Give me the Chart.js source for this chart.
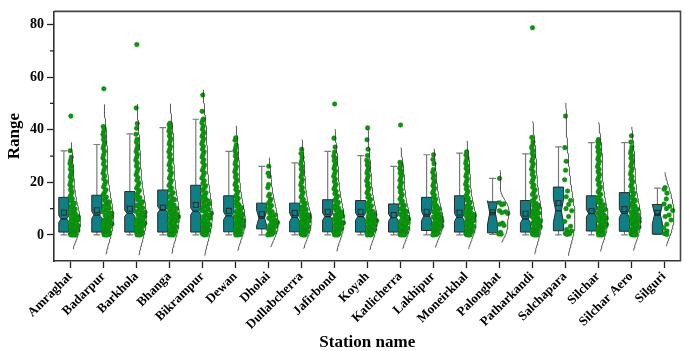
<!DOCTYPE html>
<html>
<head>
<meta charset="utf-8">
<script src="https://cdn.jsdelivr.net/npm/chart.js@4.4.0/dist/chart.umd.min.js"></script>
<style>
  html, body { margin: 0; padding: 0; background: #fff; }
  canvas { display: block; }
</style>
</head>
<body>
<canvas id="chart" width="685" height="351"></canvas>
<script>
// Stations on the x axis
const stations = ['Amraghat', 'Badarpur', 'Barkhola', 'Bhanga', 'Bikrampur', 'Dewan', 'Dholai',
    'Dullabcherra', 'Jafirbond', 'Koyah', 'Katlicherra', 'Lakhipur', 'Moneirkhal', 'Palonghat',
    'Patharkandi', 'Salchapara', 'Silchar', 'Silchar Aero', 'Silguri'];

// Box statistics
const whiskerLow = [0, 0, 0, 0, 0, 0, 0, 0, 0, 0, 0, 0, 0, 0.2, 0, 0, 0, 0, 0.2];
const q1 = [1.1, 1.1, 1.1, 1.1, 1.1, 1.2, 2.3, 1.2, 1.2, 1.1, 1.1, 1.7, 1.1, 0.8, 1.1, 1.6, 1.5, 1.4, 0.3];
const median = [6.1, 7.6, 8.2, 9.6, 9.0, 7.3, 6.4, 6.7, 7.0, 7.0, 6.6, 7.2, 6.7, 8.4, 6.1, 9.2, 8.2, 8.2, 7.9];
const mean = [8.5, 9.4, 10.0, 10.4, 11.4, 9.2, 7.9, 8.4, 8.8, 8.8, 7.6, 8.8, 8.5, 8.6, 8.1, 12.1, 9.0, 9.8, 8.4];
const q3 = [14.3, 15.1, 16.5, 17.1, 18.9, 14.9, 12.1, 12.1, 13.4, 13.1, 11.8, 14.3, 14.9, 12.6, 13.1, 18.2, 14.9, 16.1, 11.6];
const whiskerHigh = [32.0, 34.4, 38.4, 40.8, 44.0, 31.8, 26.1, 27.4, 31.8, 30.2, 26.1, 30.5, 31.1, 21.5, 30.8, 33.5, 35.1, 35.1, 17.8];
const notch = [1.3, 1.3, 1.2, 1.2, 1.3, 1.4, 3.0, 1.6, 1.4, 1.4, 1.4, 1.8, 1.6, 4.6, 1.6, 4.5, 1.4, 1.6, 3.7];

// Range values per station (scatter points)
const ptsAmraghat = [45.2, 32.0, 29.6, 28.4, 27.2, 26.1, 25.0, 24.1, 23.0, 22.1, 21.0, 20.2, 19.1, 18.3, 17.2, 16.4, 15.5, 14.6, 13.8, 12.9, 12.1, 11.4, 10.6, 9.9, 9.3, 8.7, 8.1, 7.6, 7.0, 6.5, 6.0, 5.6, 5.1, 4.7, 4.3, 3.9, 3.5, 3.2, 2.8, 2.5, 2.2, 1.9, 1.6, 1.4, 1.1, 0.9, 0.7, 0.5, 0.4, 0.3, 0.2, 0.1, 0.0, 0.0, 0.0, 4.4, 5.3, 6.3, 7.3, 8.4, 9.6, 10.8, 11.8, 3.0, 6.8];
const ptsBadarpur = [55.6, 41.2, 40.4, 39.3, 38.2, 37.4, 36.3, 35.2, 34.1, 33.0, 31.8, 30.5, 29.3, 28.1, 27.0, 25.8, 24.7, 23.5, 22.4, 21.3, 20.2, 19.2, 18.2, 17.2, 16.2, 15.3, 14.4, 13.5, 12.6, 11.8, 11.0, 10.2, 9.5, 8.8, 8.1, 7.5, 6.9, 6.3, 5.7, 5.2, 4.7, 4.2, 3.8, 3.4, 3.0, 2.6, 2.3, 2.0, 1.7, 1.4, 1.1, 0.9, 0.7, 0.5, 0.3, 0.2, 0.1, 0.0, 0.0, 4.9, 6.0, 7.1, 8.3, 9.1, 10.6, 11.5, 12.9, 3.6, 7.8];
const ptsBarkhola = [72.4, 48.3, 42.4, 40.6, 38.3, 36.4, 35.3, 33.9, 32.8, 31.7, 30.6, 29.5, 28.4, 27.3, 26.2, 25.1, 24.0, 22.9, 21.8, 20.8, 19.8, 18.8, 17.8, 16.9, 16.0, 15.1, 14.2, 13.4, 12.6, 11.8, 11.0, 10.3, 9.6, 8.9, 8.3, 7.7, 7.1, 6.5, 5.9, 5.4, 4.9, 4.4, 4.0, 3.6, 3.2, 2.8, 2.4, 2.1, 1.8, 1.5, 1.2, 1.0, 0.8, 0.6, 0.4, 0.2, 0.1, 0.0, 0.0, 5.1, 6.2, 7.4, 8.6, 9.9, 11.4, 12.2, 13.8, 4.2, 8.0];
const ptsBhanga = [42.5, 41.9, 41.2, 40.4, 39.5, 38.6, 37.6, 36.6, 35.6, 34.6, 33.6, 32.6, 31.6, 30.6, 29.6, 28.6, 27.6, 26.6, 25.6, 24.6, 23.6, 22.6, 21.6, 20.6, 19.7, 18.8, 17.9, 17.0, 16.1, 15.3, 14.5, 13.7, 12.9, 12.1, 11.4, 10.7, 10.0, 9.3, 8.7, 8.1, 7.5, 6.9, 6.3, 5.8, 5.3, 4.8, 4.3, 3.9, 3.5, 3.1, 2.7, 2.3, 2.0, 1.7, 1.4, 1.1, 0.8, 0.6, 0.4, 0.2, 0.1, 0.0, 0.0, 5.5, 6.7, 7.9, 9.0, 10.1, 11.2, 12.3, 13.4, 4.5, 8.4];
const ptsBikrampur = [53.2, 47.0, 44.1, 43.5, 42.6, 41.3, 40.2, 39.0, 38.2, 37.5, 36.6, 35.6, 34.6, 33.6, 32.6, 31.6, 30.6, 29.6, 28.6, 27.6, 26.6, 25.6, 24.6, 23.6, 22.6, 21.6, 20.6, 19.6, 18.7, 17.8, 16.9, 16.0, 15.1, 14.2, 13.4, 12.6, 11.8, 11.0, 10.3, 9.6, 8.9, 8.2, 7.6, 7.0, 6.4, 5.8, 5.3, 4.8, 4.3, 3.8, 3.4, 3.0, 2.6, 2.2, 1.9, 1.6, 1.3, 1.0, 0.8, 0.6, 0.4, 0.2, 0.1, 0.0, 5.6, 6.8, 8.0, 9.2, 10.4, 11.6, 12.9, 14.6, 4.0, 7.4];
const ptsDewan = [36.9, 36.0, 34.2, 33.1, 32.0, 31.0, 30.0, 29.0, 28.0, 27.0, 26.0, 25.0, 24.0, 23.0, 22.0, 21.0, 20.0, 19.1, 18.2, 17.3, 16.4, 15.5, 14.7, 13.9, 13.1, 12.3, 11.5, 10.8, 10.1, 9.4, 8.8, 8.2, 7.6, 7.0, 6.5, 6.0, 5.5, 5.0, 4.6, 4.2, 3.8, 3.4, 3.0, 2.7, 2.4, 2.1, 1.8, 1.5, 1.2, 1.0, 0.8, 0.6, 0.4, 0.2, 0.1, 0.0, 0.0, 4.8, 5.8, 6.7, 7.9, 9.0, 10.4, 11.9, 3.2, 7.3];
const ptsDholai = [26.1, 23.5, 22.3, 19.2, 18.0, 15.5, 14.8, 13.6, 12.8, 12.0, 11.2, 10.4, 9.5, 8.9, 8.2, 7.6, 7.0, 6.4, 5.8, 5.2, 4.7, 4.2, 3.7, 3.2, 2.7, 2.3, 1.9, 1.5, 1.1, 0.8, 0.5, 0.3, 0.1, 0.0];
const ptsDullabcherra = [32.6, 31.0, 29.5, 28.1, 27.0, 26.0, 25.0, 24.0, 23.0, 22.0, 21.0, 20.0, 19.0, 18.0, 17.1, 16.2, 15.3, 14.4, 13.6, 12.8, 12.0, 11.2, 10.5, 9.8, 9.1, 8.5, 7.9, 7.3, 6.7, 6.2, 5.7, 5.2, 4.7, 4.3, 3.9, 3.5, 3.1, 2.7, 2.4, 2.1, 1.8, 1.5, 1.2, 1.0, 0.8, 0.6, 0.4, 0.2, 0.1, 0.0, 0.0, 4.5, 5.4, 6.4, 7.6, 8.8, 10.1, 11.6, 3.3, 6.9];
const ptsJafirbond = [49.8, 36.8, 33.4, 31.5, 30.0, 29.2, 28.3, 27.3, 26.3, 25.3, 24.3, 23.3, 22.3, 21.3, 20.3, 19.3, 18.4, 17.5, 16.6, 15.7, 14.8, 14.0, 13.2, 12.4, 11.6, 10.9, 10.2, 9.5, 8.8, 8.2, 7.6, 7.0, 6.4, 5.9, 5.4, 4.9, 4.4, 4.0, 3.6, 3.2, 2.8, 2.4, 2.1, 1.8, 1.5, 1.2, 1.0, 0.8, 0.6, 0.4, 0.2, 0.1, 0.0, 0.0, 4.6, 5.6, 6.7, 7.9, 9.2, 10.5, 12.0, 3.4, 7.2];
const ptsKoyah = [40.7, 36.2, 32.6, 30.2, 28.4, 27.5, 26.6, 25.6, 24.6, 23.6, 22.6, 21.6, 20.6, 19.6, 18.7, 17.8, 16.9, 16.0, 15.1, 14.3, 13.5, 12.7, 11.9, 11.1, 10.4, 9.7, 9.0, 8.4, 7.8, 7.2, 6.6, 6.1, 5.6, 5.1, 4.6, 4.2, 3.8, 3.4, 3.0, 2.6, 2.3, 2.0, 1.7, 1.4, 1.1, 0.9, 0.7, 0.5, 0.3, 0.2, 0.1, 0.0, 0.0, 4.4, 5.4, 6.4, 7.5, 8.7, 10.0, 11.5, 3.2, 7.0];
const ptsKatlicherra = [41.8, 27.6, 27.0, 26.1, 25.3, 24.4, 23.5, 22.6, 21.7, 20.8, 19.9, 19.0, 18.1, 17.2, 16.3, 15.4, 14.5, 13.7, 12.9, 12.1, 11.3, 10.6, 9.9, 9.2, 8.5, 7.9, 7.3, 6.7, 6.1, 5.6, 5.1, 4.6, 4.2, 3.8, 3.4, 3.0, 2.6, 2.3, 2.0, 1.7, 1.4, 1.1, 0.9, 0.7, 0.5, 0.3, 0.2, 0.1, 0.0, 0.0, 4.4, 5.3, 6.3, 7.5, 8.8, 10.2, 3.1, 6.7];
const ptsLakhipur = [30.5, 28.7, 27.1, 24.9, 23.8, 22.6, 21.5, 20.4, 19.6, 18.7, 17.8, 16.9, 16.0, 15.2, 14.4, 13.6, 12.8, 12.0, 11.3, 10.6, 9.9, 9.2, 8.6, 8.0, 7.4, 6.8, 6.3, 5.8, 5.3, 4.8, 4.4, 4.0, 3.6, 3.2, 2.8, 2.5, 2.2, 1.9, 1.6, 1.3, 1.0, 0.8, 0.6, 0.4, 0.2, 0.1, 0.0, 4.6, 5.6, 6.6, 7.7, 9.0, 10.4, 11.9, 3.4, 7.1];
const ptsMoneirkhal = [31.6, 30.4, 29.3, 28.3, 27.3, 26.3, 25.3, 24.3, 23.3, 22.3, 21.3, 20.3, 19.3, 18.4, 17.5, 16.6, 15.7, 14.8, 14.0, 13.2, 12.4, 11.6, 10.9, 10.2, 9.5, 8.8, 8.2, 7.6, 7.0, 6.4, 5.9, 5.4, 4.9, 4.4, 4.0, 3.6, 3.2, 2.8, 2.4, 2.1, 1.8, 1.5, 1.2, 1.0, 0.8, 0.6, 0.4, 0.2, 0.1, 0.0, 0.0, 4.5, 5.5, 6.6, 7.8, 9.1, 10.6, 12.2, 3.3, 7.2];
const ptsPalonghat = [21.5, 12.2, 11.8, 11.5, 9.2, 8.8, 8.5, 8.2, 4.5, 4.1, 3.6, 1.0, 0.4, 0.3];
const ptsPatharkandi = [78.8, 37.1, 35.4, 34.0, 33.2, 32.1, 31.0, 30.0, 29.0, 28.0, 27.0, 26.0, 25.0, 24.0, 23.0, 22.0, 21.0, 20.0, 19.0, 18.1, 17.2, 16.3, 15.4, 14.5, 13.6, 12.8, 12.0, 11.2, 10.4, 9.7, 9.0, 8.3, 7.7, 7.1, 6.5, 5.9, 5.4, 4.9, 4.4, 4.0, 3.6, 3.2, 2.8, 2.4, 2.1, 1.8, 1.5, 1.2, 1.0, 0.8, 0.6, 0.4, 0.2, 0.1, 0.0, 0.0, 4.3, 5.2, 6.2, 7.4, 8.6, 9.9, 11.4, 3.1, 6.8];
const ptsSalchapara = [45.2, 33.2, 28.0, 24.6, 21.0, 16.7, 14.5, 13.1, 11.6, 10.0, 9.2, 7.0, 5.1, 3.3, 2.1, 1.5, 1.0, 0.6, 0.4, 0.2];
const ptsSilchar = [36.3, 35.6, 35.0, 34.2, 33.4, 32.5, 31.6, 30.7, 29.8, 28.9, 28.0, 27.0, 26.0, 25.0, 24.0, 23.0, 22.0, 21.0, 20.0, 19.1, 18.2, 17.3, 16.4, 15.5, 14.7, 13.9, 13.1, 12.3, 11.5, 10.8, 10.1, 9.4, 8.8, 8.2, 7.6, 7.0, 6.4, 5.9, 5.4, 4.9, 4.4, 4.0, 3.6, 3.2, 2.8, 2.4, 2.1, 1.8, 1.5, 1.2, 1.0, 0.8, 0.6, 0.4, 0.2, 0.1, 0.0, 0.0, 5.0, 6.1, 7.3, 8.5, 9.8, 11.2, 12.7, 3.8, 7.9];
const ptsSilcharAero = [37.7, 35.3, 33.5, 32.2, 31.2, 30.2, 29.2, 28.2, 27.2, 26.2, 25.2, 24.2, 23.2, 22.2, 21.2, 20.3, 19.4, 18.5, 17.6, 16.7, 15.8, 15.0, 14.2, 13.4, 12.6, 11.8, 11.1, 10.4, 9.7, 9.0, 8.4, 7.8, 7.2, 6.6, 6.1, 5.6, 5.1, 4.6, 4.2, 3.8, 3.4, 3.0, 2.6, 2.3, 2.0, 1.7, 1.4, 1.1, 0.9, 0.7, 0.5, 0.3, 0.2, 0.1, 0.0, 0.0, 5.2, 6.3, 7.5, 8.7, 10.0, 11.5, 13.0, 3.9, 8.1];
const ptsSilguri = [18.0, 17.4, 15.9, 13.7, 11.8, 10.9, 10.0, 9.3, 7.6, 7.0, 5.7, 4.1, 2.7, 1.5, 0.5, 0.2];

const pointValues = [ptsAmraghat, ptsBadarpur, ptsBarkhola, ptsBhanga, ptsBikrampur, ptsDewan, ptsDholai,
    ptsDullabcherra, ptsJafirbond, ptsKoyah, ptsKatlicherra, ptsLakhipur, ptsMoneirkhal, ptsPalonghat,
    ptsPatharkandi, ptsSalchapara, ptsSilchar, ptsSilcharAero, ptsSilguri];

const yTicks = [0, 20, 40, 60, 80];
const yMinorTicks = [10, 30, 50, 70];

const FONT = "'Liberation Serif', 'Times New Roman', serif";

// Gaussian kernel density helpers
function bandwidth(vals) {
    const n = vals.length;
    const m = vals.reduce((a, b) => a + b, 0) / n;
    const sd = Math.sqrt(vals.reduce((a, v) => a + (v - m) ** 2, 0) / (n - 1));
    const s = [...vals].sort((a, b) => a - b);
    const iqr = s[Math.floor(0.75 * (n - 1))] - s[Math.floor(0.25 * (n - 1))];
    return 1.3 * 0.9 * Math.min(sd, iqr / 1.34) * Math.pow(n, -0.2);
}

function density(vals, h, v) {
    let sum = 0;
    vals.forEach(p => {
        const z = (v - p) / h;
        sum += Math.exp(-0.5 * z * z);
    });
    return sum;
}

// Half violins and jittered points
const violinData = [];
const pointData = [];
pointValues.forEach((vals, i) => {
    const h = bandwidth(vals);
    const lo = Math.min(...vals) - 1.1 * h;
    const hi = Math.max(...vals) + 1.5 * h;
    const grid = [];
    for (let v = lo; v <= hi; v += 0.5) grid.push(v);
    const dens = grid.map(v => density(vals, h, v));
    const dmax = Math.max(...dens);
    grid.forEach((v, k) => {
        const r = dens[k] / dmax;
        violinData.push(r < 0.07 && v > 0 ? { x: i, y: null } : { x: i + 0.3 * r, y: v });
    });
    violinData.push({ x: i, y: null });

    vals.forEach((v, k) => {
        const u = ((k + 1) * 0.618034) % 1;
        const r = density(vals, h, v) / dmax;
        pointData.push({ x: i - 0.02 + u * (0.05 + 0.26 * r * r * r), y: v });
    });
});

// Notched boxes + whiskers drawn under the points
const boxPlugin = {
    id: 'notchedBoxes',
    beforeDatasetsDraw(chart) {
        const { ctx, scales: { x, y } } = chart;
        ctx.save();
        stations.forEach((name, i) => {
            const c = x.getPixelForValue(i - 0.2);
            const hw = x.getPixelForValue(i - 0.2 + 0.155) - c;
            const cap = hw * 0.65;
            const ins = hw * 0.45;
            const yLo = y.getPixelForValue(whiskerLow[i]);
            const yHi = y.getPixelForValue(whiskerHigh[i]);
            const yQ1 = y.getPixelForValue(q1[i]);
            const yQ3 = y.getPixelForValue(q3[i]);
            const yMed = y.getPixelForValue(median[i]);
            const yNl = y.getPixelForValue(Math.max(q1[i], median[i] - notch[i]));
            const yNh = y.getPixelForValue(median[i] + notch[i]);

            ctx.strokeStyle = '#7a7a7a';
            ctx.lineWidth = 1.2;
            ctx.beginPath();
            ctx.moveTo(c, yQ3); ctx.lineTo(c, yHi);
            ctx.moveTo(c - cap, yHi); ctx.lineTo(c + cap, yHi);
            ctx.moveTo(c, yQ1); ctx.lineTo(c, yLo);
            ctx.moveTo(c - cap, yLo); ctx.lineTo(c + cap, yLo);
            ctx.stroke();

            ctx.beginPath();
            ctx.moveTo(c - hw, yQ1);
            ctx.lineTo(c - hw, yNl);
            ctx.lineTo(c - hw + ins, yMed);
            ctx.lineTo(c - hw, yNh);
            ctx.lineTo(c - hw, yQ3);
            ctx.lineTo(c + hw, yQ3);
            ctx.lineTo(c + hw, yNh);
            ctx.lineTo(c + hw - ins, yMed);
            ctx.lineTo(c + hw, yNl);
            ctx.lineTo(c + hw, yQ1);
            ctx.closePath();
            ctx.fillStyle = '#0e7f86';
            ctx.fill();
            ctx.strokeStyle = '#2a2a2a';
            ctx.lineWidth = 1;
            ctx.stroke();

            ctx.beginPath();
            ctx.moveTo(c - hw + ins, yMed);
            ctx.lineTo(c + hw - ins, yMed);
            ctx.strokeStyle = '#1a1a1a';
            ctx.lineWidth = 1.2;
            ctx.stroke();

            const yMean = y.getPixelForValue(mean[i]);
            ctx.strokeStyle = '#222';
            ctx.lineWidth = 0.9;
            ctx.strokeRect(c - 2.5, yMean - 2.5, 5, 5);
        });
        ctx.restore();
    }
};

// Top/right frame and minor y ticks
const framePlugin = {
    id: 'frame',
    afterDraw(chart) {
        const { ctx, chartArea: a, scales: { y } } = chart;
        ctx.save();
        ctx.strokeStyle = '#444';
        ctx.lineWidth = 1.6;
        ctx.beginPath();
        ctx.moveTo(a.left, a.top);
        ctx.lineTo(a.right, a.top);
        ctx.lineTo(a.right, a.bottom);
        ctx.stroke();
        ctx.strokeStyle = '#222';
        ctx.lineWidth = 1.3;
        ctx.beginPath();
        yMinorTicks.forEach(v => {
            const py = y.getPixelForValue(v);
            ctx.moveTo(a.left - 4, py);
            ctx.lineTo(a.left, py);
        });
        ctx.stroke();
        ctx.restore();
    }
};

new Chart(document.getElementById('chart'), {
    type: 'scatter',
    data: {
        datasets: [
            {
                label: 'Density',
                data: violinData,
                showLine: true,
                spanGaps: false,
                pointRadius: 0,
                borderColor: '#2e2e2e',
                borderWidth: 0.8,
                order: 1
            },
            {
                label: 'Range',
                data: pointData,
                pointRadius: 2.3,
                pointStyle: 'circle',
                backgroundColor: '#0b990b',
                borderColor: '#07800a',
                borderWidth: 0.5,
                order: 2
            }
        ]
    },
    options: {
        responsive: false,
        animation: false,
        devicePixelRatio: 1,
        layout: { padding: { top: 2, right: 3, left: 0, bottom: 0 } },
        plugins: { legend: { display: false }, tooltip: { enabled: false } },
        scales: {
            x: {
                type: 'linear',
                min: -0.5,
                max: stations.length - 0.5,
                afterBuildTicks: s => { s.ticks = stations.map((n, i) => ({ value: i })); },
                afterFit: s => { s.height = 90; },
                ticks: {
                    autoSkip: false,
                    minRotation: 45,
                    maxRotation: 45,
                    padding: 1,
                    color: '#000',
                    font: { family: FONT, size: 13, weight: 'bold' },
                    callback: v => stations[v]
                },
                grid: { drawOnChartArea: false, tickLength: 7, tickColor: '#222', tickWidth: 1.3 },
                border: { color: '#333', width: 1.6 },
                title: {
                    display: true,
                    text: 'Station name',
                    color: '#000',
                    padding: { top: 0, bottom: 0 },
                    font: { family: FONT, size: 17, weight: 'bold', lineHeight: 1 }
                }
            },
            y: {
                min: -9.9,
                max: 85,
                afterBuildTicks: s => { s.ticks = yTicks.map(v => ({ value: v })); },
                afterFit: s => { s.width = 54; },
                ticks: {
                    padding: 3,
                    color: '#000',
                    font: { family: FONT, size: 14, weight: 'bold' }
                },
                grid: { drawOnChartArea: false, tickLength: 7, tickColor: '#222', tickWidth: 1.3 },
                border: { color: '#333', width: 1.6 },
                title: {
                    display: true,
                    text: 'Range',
                    color: '#000',
                    font: { family: FONT, size: 17, weight: 'bold' }
                }
            }
        }
    },
    plugins: [boxPlugin, framePlugin]
});
</script>
</body>
</html>
